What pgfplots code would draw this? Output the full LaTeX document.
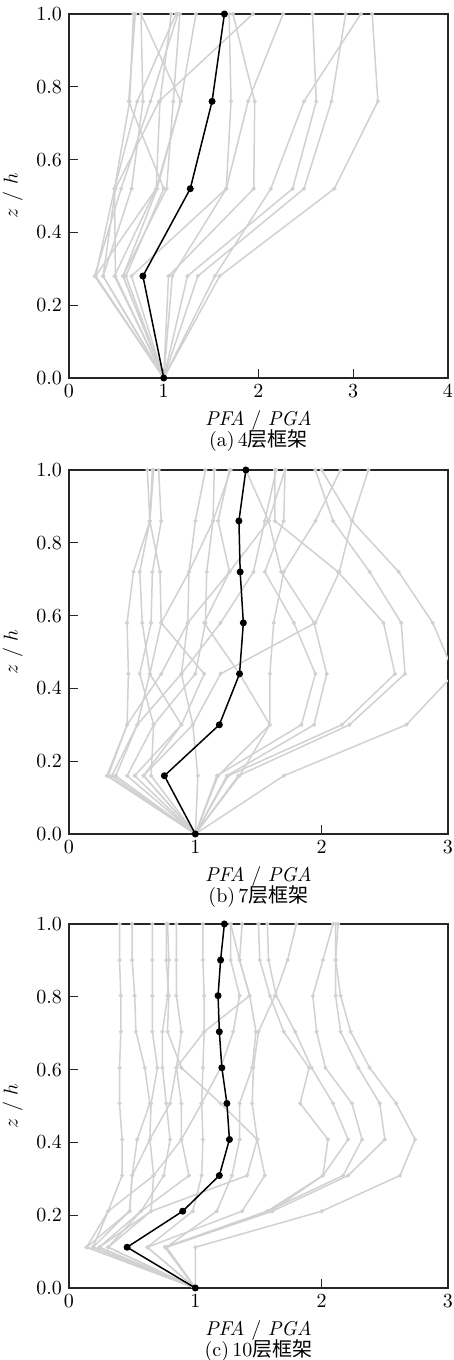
\documentclass[border=0pt]{standalone}
\usepackage{fontspec}
\usepackage{pgfplots}
\usepackage{pgfplotstable}
\pgfplotsset{compat=1.18}
\newfontfamily\cjk{Noto Sans CJK SC}

% 4-storey frame
\pgfplotstableread{
z    l1   l2   l3   l4   l5   l6   l7   l8   l9   l10  l11  l12  l13  l14  l15  l16  l17  m
0.00 1.00 1.00 1.00 1.00 1.00 1.00 1.00 1.00 1.00 1.00 1.00 1.00 1.00 1.00 1.00 1.00 1.00 1.00
0.28 1.59 1.54 1.36 1.25 1.05 1.09 0.28 0.36 0.48 0.57 0.27 0.49 0.60 0.66 0.36 0.57 0.28 0.78
0.52 2.80 2.13 2.48 2.36 1.95 1.66 0.48 0.66 0.92 1.03 0.55 0.48 1.00 1.66 0.49 0.93 0.92 1.28
0.76 3.26 2.48 2.77 2.61 1.96 1.89 0.64 0.78 0.96 1.10 0.86 0.72 0.63 1.71 0.95 1.18 1.18 1.51
1.00 3.20 3.08 2.92 2.57 1.73 2.26 0.68 0.76 1.08 1.17 1.15 1.13 0.70 1.69 1.94 1.34 0.76 1.64
}\tA

% 7-storey frame
\pgfplotstableread{
z    l1   l2   l3   l4   l5   l6   l7   l8   l9   l10  l11  l12  l13  l14  l15  l16  l17  m
0.00 1.00 1.00 1.00 1.00 1.00 1.00 1.00 1.00 1.00 1.00 1.00 1.00 1.00 1.00 1.00 1.00 1.00 1.00
0.16 1.70 1.34 1.26 1.25 1.17 1.35 1.02 0.30 0.34 0.46 0.52 0.59 0.65 0.37 1.18 0.31 0.59 0.755
0.30 2.67 2.22 2.16 1.94 1.84 1.59 0.98 0.46 0.54 0.67 0.89 0.98 0.67 0.54 1.59 0.46 0.89 1.19
0.44 3.05 2.66 2.58 2.04 1.95 1.59 1.20 0.47 0.64 0.56 0.64 0.89 1.00 0.89 1.35 0.73 1.07 1.35
0.58 2.88 2.63 2.49 1.94 1.78 1.62 1.95 0.46 0.58 0.65 0.73 0.94 1.08 1.20 1.07 0.94 0.73 1.38
0.72 2.61 2.38 2.13 1.68 1.55 1.70 2.14 0.51 0.56 0.66 0.72 0.95 1.09 1.46 1.27 1.27 0.95 1.355
0.86 2.24 2.09 1.63 1.58 1.70 1.95 2.24 0.64 0.64 0.73 0.64 1.00 1.14 1.55 1.18 1.58 1.14 1.345
1.00 2.00 1.95 1.63 1.40 1.71 2.15 2.37 0.62 0.67 0.71 0.66 1.08 1.15 1.64 1.27 1.71 1.28 1.40
}\tB

% 10-storey frame
\pgfplotstableread{
z     l1   l2   l3   l4   l5   l6   l7   l8   l9   l10  l11  l12  l13  l14  l15  l16  m
0.000 1.00 1.00 1.00 1.00 1.00 1.00 1.00 1.00 1.00 1.00 1.00 1.00 1.00 1.00 1.00 1.00 1.00
0.112 1.00 0.77 0.76 0.77 0.76 0.62 0.14 0.19 0.24 0.31 0.14 0.24 0.62 0.77 0.19 0.31 0.46
0.211 2.00 1.61 1.57 1.60 1.57 1.37 0.31 0.48 0.65 0.57 0.48 0.57 0.98 1.17 0.31 0.65 0.90
0.309 2.62 2.21 2.17 2.01 2.01 1.55 0.42 0.50 0.67 0.75 0.50 0.95 1.05 1.29 0.67 1.41 1.19
0.408 2.74 2.50 2.32 2.21 2.05 1.49 0.42 0.54 0.64 0.80 0.64 0.89 1.06 1.35 0.89 1.49 1.27
0.507 2.59 2.46 2.24 2.09 1.83 1.45 0.40 0.64 0.65 0.77 0.80 0.89 1.05 1.35 1.05 1.20 1.25
0.605 2.38 2.29 2.03 1.92 1.90 1.46 0.40 0.60 0.70 0.74 0.85 0.85 1.06 1.45 1.20 0.89 1.21
0.704 2.23 2.15 1.96 1.79 1.70 1.50 0.41 0.53 0.66 0.74 0.89 1.07 1.07 1.48 1.30 0.78 1.19
0.803 2.15 2.11 1.93 1.64 1.59 1.63 0.41 0.52 0.66 0.78 0.85 1.43 1.07 1.43 1.35 0.79 1.18
0.901 2.11 2.11 2.01 1.58 1.51 1.73 0.40 0.50 0.66 0.79 0.85 1.35 1.06 1.35 1.28 0.77 1.20
1.000 2.13 2.11 2.09 1.57 1.50 1.80 0.40 0.50 0.66 0.78 0.85 1.28 1.06 1.37 1.28 0.77 1.23
}\tC

\pgfplotsset{
  panel/.style={
    width=189.5pt, height=182pt, scale only axis, anchor=south west,
    ymin=0, ymax=1, xmin=0,
    ytick={0,0.2,0.4,0.6,0.8,1.0},
    yticklabel style={/pgf/number format/.cd, fixed, fixed zerofill, precision=1},
    tick align=inside, xtick pos=bottom, ytick pos=left,
    minor tick num=0,
    axis line style={line width=0.8pt, black!85},
    major tick style={line width=0.6pt, black!85},
    ylabel={$z$ / $h$},
    xlabel style={align=center, yshift=0.5pt},
    clip=true,
  },
  gr/.style={color=black!18, line width=0.75pt, mark=*, mark size=0.6pt,
    mark options={fill=black!26, draw=none}, forget plot},
  mn/.style={color=black, line width=0.75pt, mark=*, mark size=1.35pt,
    mark options={fill=black}, forget plot},
}

\begin{document}
\begin{tikzpicture}
\useasboundingbox (0,0) rectangle (227pt,680pt);

\begin{axis}[panel, at={(34.5pt,491pt)}, xmax=4, xtick={0,1,2,3,4},
  xlabel={\textit{PFA} / \textit{PGA}\\[-1.5pt](a)\,4{\cjk 层框架}}]
\pgfplotsinvokeforeach{1,...,17}{\addplot[gr] table[x=l#1,y=z]{\tA};}
\addplot[mn] table[x=m,y=z]{\tA};
\end{axis}

\begin{axis}[panel, at={(34.5pt,263pt)}, xmax=3, xtick={0,1,2,3},
  xlabel={\textit{PFA} / \textit{PGA}\\[-1.5pt](b)\,7{\cjk 层框架}}]
\pgfplotsinvokeforeach{1,...,17}{\addplot[gr] table[x=l#1,y=z]{\tB};}
\addplot[mn] table[x=m,y=z]{\tB};
\end{axis}

\begin{axis}[panel, at={(34.5pt,36pt)}, xmax=3, xtick={0,1,2,3},
  xlabel={\textit{PFA} / \textit{PGA}\\[-1.5pt](c)\,10{\cjk 层框架}}]
\pgfplotsinvokeforeach{1,...,16}{\addplot[gr] table[x=l#1,y=z]{\tC};}
\addplot[mn] table[x=m,y=z]{\tC};
\end{axis}
\end{tikzpicture}
\end{document}
